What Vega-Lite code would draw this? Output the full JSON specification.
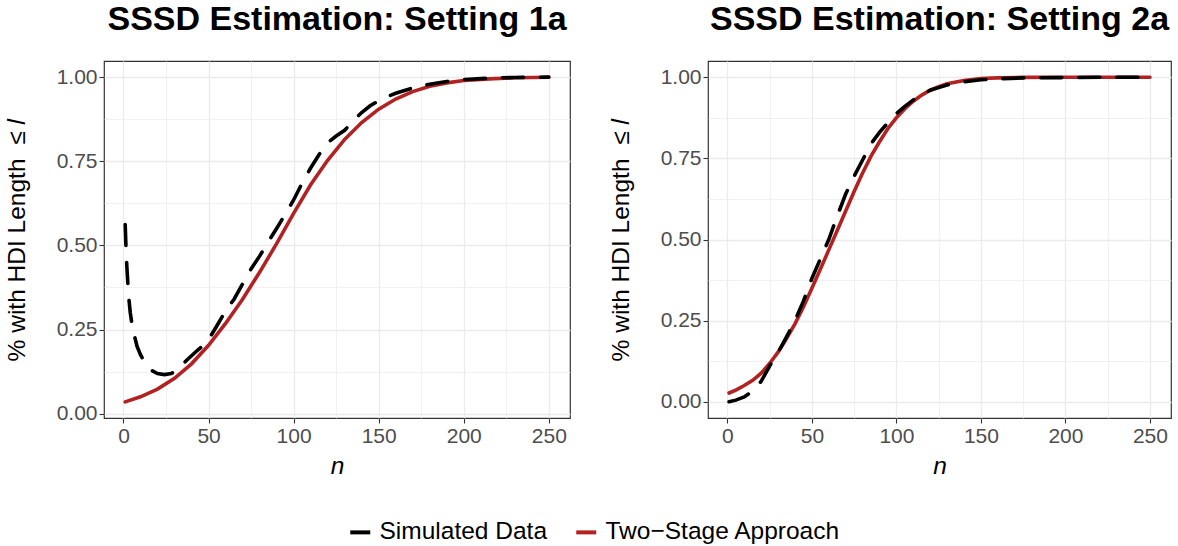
{
  "$schema": "https://vega.github.io/schema/vega-lite/v6.json",
  "padding": {"left": 3, "right": 8, "top": 2, "bottom": 4},
  "datasets": {
    "s1": [
      {"n": 1, "v": 0.562}, {"n": 1.5, "v": 0.49}, {"n": 2, "v": 0.435}, {"n": 3, "v": 0.35}, {"n": 4, "v": 0.3},
      {"n": 5, "v": 0.265}, {"n": 6, "v": 0.24}, {"n": 8, "v": 0.2}, {"n": 10, "v": 0.175}, {"n": 12, "v": 0.157},
      {"n": 14, "v": 0.142}, {"n": 17, "v": 0.127}, {"n": 20, "v": 0.119}, {"n": 24, "v": 0.116}, {"n": 28, "v": 0.119},
      {"n": 31, "v": 0.127}, {"n": 34, "v": 0.142}, {"n": 37, "v": 0.158}, {"n": 40, "v": 0.172}, {"n": 43, "v": 0.186},
      {"n": 46, "v": 0.199}, {"n": 50, "v": 0.22}, {"n": 55, "v": 0.262}, {"n": 60, "v": 0.305}, {"n": 65, "v": 0.34},
      {"n": 70, "v": 0.385}, {"n": 75, "v": 0.43}, {"n": 80, "v": 0.468}, {"n": 85, "v": 0.51}, {"n": 90, "v": 0.55},
      {"n": 95, "v": 0.592}, {"n": 100, "v": 0.635}, {"n": 105, "v": 0.685}, {"n": 110, "v": 0.73}, {"n": 115, "v": 0.77},
      {"n": 120, "v": 0.805}, {"n": 125, "v": 0.825}, {"n": 130, "v": 0.842}, {"n": 135, "v": 0.87}, {"n": 140, "v": 0.895},
      {"n": 145, "v": 0.915}, {"n": 150, "v": 0.93}, {"n": 155, "v": 0.942}, {"n": 160, "v": 0.952}, {"n": 170, "v": 0.968},
      {"n": 180, "v": 0.979}, {"n": 190, "v": 0.987}, {"n": 200, "v": 0.993}, {"n": 215, "v": 0.997}, {"n": 230, "v": 0.999},
      {"n": 250, "v": 1.0}
    ],
    "t1": [
      {"n": 1, "v": 0.035}, {"n": 10, "v": 0.05}, {"n": 20, "v": 0.073}, {"n": 30, "v": 0.105}, {"n": 40, "v": 0.148},
      {"n": 50, "v": 0.203}, {"n": 60, "v": 0.268}, {"n": 70, "v": 0.34}, {"n": 80, "v": 0.42}, {"n": 90, "v": 0.505},
      {"n": 100, "v": 0.595}, {"n": 110, "v": 0.68}, {"n": 120, "v": 0.753}, {"n": 130, "v": 0.815}, {"n": 140, "v": 0.865},
      {"n": 150, "v": 0.905}, {"n": 160, "v": 0.935}, {"n": 170, "v": 0.957}, {"n": 180, "v": 0.973}, {"n": 190, "v": 0.983},
      {"n": 200, "v": 0.99}, {"n": 215, "v": 0.995}, {"n": 230, "v": 0.998}, {"n": 250, "v": 0.9995}
    ],
    "s2": [
      {"n": 1, "v": 0.0}, {"n": 5, "v": 0.005}, {"n": 10, "v": 0.015}, {"n": 15, "v": 0.033}, {"n": 20, "v": 0.063},
      {"n": 25, "v": 0.11}, {"n": 30, "v": 0.152}, {"n": 35, "v": 0.2}, {"n": 40, "v": 0.25}, {"n": 45, "v": 0.31},
      {"n": 50, "v": 0.38}, {"n": 55, "v": 0.44}, {"n": 60, "v": 0.5}, {"n": 65, "v": 0.572}, {"n": 70, "v": 0.64},
      {"n": 75, "v": 0.695}, {"n": 80, "v": 0.745}, {"n": 85, "v": 0.795}, {"n": 90, "v": 0.83}, {"n": 95, "v": 0.86},
      {"n": 100, "v": 0.888}, {"n": 105, "v": 0.91}, {"n": 110, "v": 0.93}, {"n": 115, "v": 0.946}, {"n": 120, "v": 0.96},
      {"n": 125, "v": 0.968}, {"n": 130, "v": 0.976}, {"n": 140, "v": 0.986}, {"n": 150, "v": 0.992}, {"n": 160, "v": 0.995},
      {"n": 175, "v": 0.998}, {"n": 200, "v": 0.999}, {"n": 225, "v": 1.0}, {"n": 250, "v": 1.0}
    ],
    "t2": [
      {"n": 1, "v": 0.027}, {"n": 5, "v": 0.036}, {"n": 10, "v": 0.05}, {"n": 15, "v": 0.066}, {"n": 20, "v": 0.088},
      {"n": 25, "v": 0.118}, {"n": 30, "v": 0.153}, {"n": 35, "v": 0.195}, {"n": 40, "v": 0.24}, {"n": 45, "v": 0.292},
      {"n": 50, "v": 0.35}, {"n": 55, "v": 0.408}, {"n": 60, "v": 0.468}, {"n": 65, "v": 0.528}, {"n": 70, "v": 0.588},
      {"n": 75, "v": 0.648}, {"n": 80, "v": 0.705}, {"n": 85, "v": 0.757}, {"n": 90, "v": 0.801}, {"n": 95, "v": 0.842},
      {"n": 100, "v": 0.875}, {"n": 105, "v": 0.903}, {"n": 110, "v": 0.926}, {"n": 115, "v": 0.945}, {"n": 120, "v": 0.96},
      {"n": 125, "v": 0.971}, {"n": 130, "v": 0.98}, {"n": 140, "v": 0.99}, {"n": 150, "v": 0.996}, {"n": 160, "v": 0.998},
      {"n": 175, "v": 0.9995}, {"n": 200, "v": 1.0}, {"n": 250, "v": 1.0}
    ]
  },
  "config": {
    "font": "Liberation Sans",
    "view": {"stroke": "#333333", "strokeWidth": 1.2},
    "axis": {
      "domain": false,
      "labelFont": "Liberation Sans",
      "labelFontSize": 21,
      "labelColor": "#4D4D4D",
      "tickColor": "#333333",
      "tickSize": 5,
      "tickWidth": 1.1,
      "gridColor": "#EBEBEB",
      "titleFont": "Liberation Sans",
      "titleFontSize": 24.5,
      "titleFontWeight": "normal",
      "titleColor": "#000000"
    },
    "legend": {
      "labelFont": "Liberation Sans",
      "labelFontSize": 24.5,
      "labelColor": "#000000",
      "labelLimit": 400,
      "symbolStrokeWidth": 4,
      "symbolSize": 400,
      "symbolType": "stroke",
      "columnPadding": 20,
      "labelOffset": 7
    },
    "title": {"font": "Liberation Sans", "fontSize": 34, "fontWeight": "bold", "color": "#000000"}
  },
  "spacing": 36,
  "hconcat": [
    {
      "width": 466,
      "height": 357,
      "title": {"text": "SSSD Estimation: Setting 1a", "anchor": "middle", "frame": "group", "offset": 24},
      "layer": [
        {
          "data": {"name": "t1"},
          "mark": {"type": "line", "strokeWidth": 3.6, "strokeCap": "round"},
          "encoding": {
            "x": {
              "field": "n", "type": "quantitative",
              "scale": {"domain": [-11.45, 262.45], "nice": false, "zero": false},
              "axis": {
                "title": "n", "titleFontStyle": "italic", "titlePadding": 8,
                "values": [0, 25, 50, 75, 100, 125, 150, 175, 200, 225, 250],
                "labelExpr": "datum.value % 50 === 0 ? datum.label : ''",
                "labelPadding": 2,
                "tickOpacity": {"condition": {"test": "datum.value % 50 === 0", "value": 1}, "value": 0},
                "gridWidth": {"condition": {"test": "datum.value % 50 === 0", "value": 1.3}, "value": 0.7}
              }
            },
            "y": {
              "field": "v", "type": "quantitative",
              "scale": {"domain": [-0.013, 1.048], "nice": false, "zero": false},
              "axis": {
                "title": "% with HDI Length\u00a0 ≤ 𝑙", "titlePadding": 27,
                "values": [0, 0.125, 0.25, 0.375, 0.5, 0.625, 0.75, 0.875, 1],
                "format": ".2f",
                "labelExpr": "(datum.value * 4) % 1 === 0 ? datum.label : ''",
                "labelPadding": 2,
                "tickOpacity": {"condition": {"test": "(datum.value * 4) % 1 === 0", "value": 1}, "value": 0},
                "gridWidth": {"condition": {"test": "(datum.value * 4) % 1 === 0", "value": 1.3}, "value": 0.7}
              }
            },
            "color": {
              "datum": "Two−Stage Approach", "type": "nominal",
              "scale": {"domain": ["Simulated Data", "Two−Stage Approach"], "range": ["#000000", "#B22222"]},
              "legend": {"title": null, "orient": "none", "direction": "horizontal", "legendX": 244, "legendY": 459}
            }
          }
        },
        {
          "data": {"name": "s1"},
          "mark": {"type": "line", "strokeWidth": 3.6, "strokeCap": "round", "strokeDash": [21, 17]},
          "encoding": {
            "x": {"field": "n", "type": "quantitative"},
            "y": {"field": "v", "type": "quantitative"},
            "color": {"datum": "Simulated Data", "type": "nominal"}
          }
        }
      ]
    },
    {
      "width": 463,
      "height": 357,
      "title": {"text": "SSSD Estimation: Setting 2a", "anchor": "middle", "frame": "group", "offset": 24},
      "layer": [
        {
          "data": {"name": "t2"},
          "mark": {"type": "line", "strokeWidth": 3.6, "strokeCap": "round"},
          "encoding": {
            "x": {
              "field": "n", "type": "quantitative",
              "scale": {"domain": [-11.45, 262.45], "nice": false, "zero": false},
              "axis": {
                "title": "n", "titleFontStyle": "italic", "titlePadding": 8,
                "values": [0, 25, 50, 75, 100, 125, 150, 175, 200, 225, 250],
                "labelExpr": "datum.value % 50 === 0 ? datum.label : ''",
                "labelPadding": 2,
                "tickOpacity": {"condition": {"test": "datum.value % 50 === 0", "value": 1}, "value": 0},
                "gridWidth": {"condition": {"test": "datum.value % 50 === 0", "value": 1.3}, "value": 0.7}
              }
            },
            "y": {
              "field": "v", "type": "quantitative",
              "scale": {"domain": [-0.05, 1.05], "nice": false, "zero": false},
              "axis": {
                "title": "% with HDI Length\u00a0 ≤ 𝑙", "titlePadding": 27,
                "values": [0, 0.125, 0.25, 0.375, 0.5, 0.625, 0.75, 0.875, 1],
                "format": ".2f",
                "labelExpr": "(datum.value * 4) % 1 === 0 ? datum.label : ''",
                "labelPadding": 2,
                "tickOpacity": {"condition": {"test": "(datum.value * 4) % 1 === 0", "value": 1}, "value": 0},
                "gridWidth": {"condition": {"test": "(datum.value * 4) % 1 === 0", "value": 1.3}, "value": 0.7}
              }
            },
            "color": {"datum": "Two−Stage Approach", "type": "nominal"}
          }
        },
        {
          "data": {"name": "s2"},
          "mark": {"type": "line", "strokeWidth": 3.6, "strokeCap": "round", "strokeDash": [21, 17]},
          "encoding": {
            "x": {"field": "n", "type": "quantitative"},
            "y": {"field": "v", "type": "quantitative"},
            "color": {"datum": "Simulated Data", "type": "nominal"}
          }
        }
      ]
    }
  ]
}
